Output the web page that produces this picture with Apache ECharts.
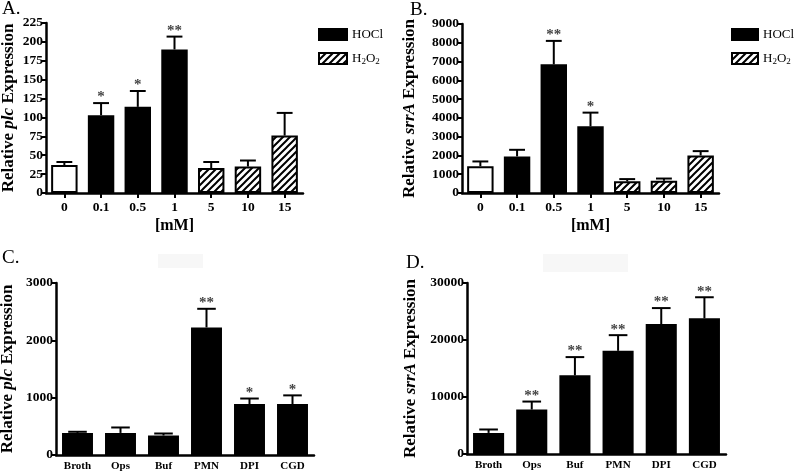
<!DOCTYPE html>
<html><head><meta charset="utf-8">
<script src="https://cdn.jsdelivr.net/npm/echarts@6/dist/echarts.min.js"></script>
<style>html,body{margin:0;padding:0;background:#fff}#c{width:800px;height:473px}</style>
</head><body><div id="c"></div>
<script>
// ---- Data ----
const aCats = ['0','0.1','0.5','1','5','10','15'];
const aMean = [37,103,114,190,33,35,76];
const aErrTop = [41,119,135,207,41,43,106];
const aStars = ['','*','*','**','','',''];
const aGroup = ['Control','HOCl','HOCl','HOCl','H2O2','H2O2','H2O2'];

const bCats = ['0','0.1','0.5','1','5','10','15'];
const bMean = [1430,1950,6850,3550,620,650,2000];
const bErrTop = [1680,2300,8100,4280,740,770,2230];
const bStars = ['','','**','*','','',''];
const bGroup = ['Control','HOCl','HOCl','HOCl','H2O2','H2O2','H2O2'];

const cCats = ['Broth','Ops','Buf','PMN','DPI','CGD'];
const cMean = [385,385,340,2225,890,890];
const cErrTop = [405,480,375,2550,985,1040];
const cStars = ['','','','**','*','*'];
const cGroup = ['HOCl','HOCl','HOCl','HOCl','HOCl','HOCl'];

const dCats = ['Broth','Ops','Buf','PMN','DPI','CGD'];
const dMean = [3700,7800,13800,18100,22800,23800];
const dErrTop = [4300,9200,17000,20850,25600,27500];
const dStars = ['','**','**','**','**','**'];
const dGroup = ['HOCl','HOCl','HOCl','HOCl','HOCl','HOCl'];

const aAxis = {min:0, max:225, interval:25};
const bAxis = {min:0, max:9000, interval:1000};
const cAxis = {min:0, max:3000, interval:1000};
const dAxis = {min:0, max:30000, interval:10000};

// ---- Styles ----
const SERIF = '"Liberation Serif","DejaVu Serif",serif';
function hatch(){
  const s = 7, c = document.createElement('canvas');
  c.width = s; c.height = s;
  const g = c.getContext('2d');
  g.fillStyle = '#fff'; g.fillRect(0,0,s,s);
  g.strokeStyle = '#000'; g.lineWidth = 2;
  g.beginPath();
  g.moveTo(-1,s+1); g.lineTo(s+1,-1);
  g.moveTo(-1,1); g.lineTo(1,-1);
  g.moveTo(s-1,s+1); g.lineTo(s+1,s-1);
  g.stroke();
  return c;
}
const hatchPattern = {image: hatch(), repeat: 'repeat'};
const styles = {
  Control: {color:'#fff', borderColor:'#000', borderWidth:2},
  HOCl: {color:'#000', borderColor:'#000', borderWidth:2},
  H2O2: {color: hatchPattern, borderColor:'#000', borderWidth:2}
};

const grids = [
  {left:46, top:23, width:257, height:170},
  {left:462, top:24, width:257, height:169},
  {left:56, top:283, width:258, height:172},
  {left:467, top:283, width:259, height:171}
];

function xAx(i, cats, small, withName){
  return {
    type:'category', gridIndex:i, data:cats,
    axisLine:{show:true, lineStyle:{color:'#000', width:2.5}},
    axisTick:{show:!small, alignWithLabel:true, length:5, lineStyle:{color:'#000', width:2}},
    axisLabel:{color:'#000', fontFamily:SERIF, fontWeight:'bold', fontSize: small?11:13.5, margin: small?6:8},
    name: withName ? '[mM]' : '',
    nameLocation:'middle', nameGap:25,
    nameTextStyle:{color:'#000', fontFamily:SERIF, fontWeight:'bold', fontSize:16}
  };
}
function yAx(i, ax, gene, gap){
  return {
    type:'value', gridIndex:i, min:ax.min, max:ax.max, interval:ax.interval,
    axisLine:{show:true, lineStyle:{color:'#000', width:2.5}},
    axisTick:{show:true, length:5, lineStyle:{color:'#000', width:2}},
    splitLine:{show:false},
    axisLabel:{color:'#000', fontFamily:SERIF, fontWeight:'bold', fontSize:13.5, margin:3,
      formatter: v => String(v)},
    name:'{b|Relative }{i|' + gene + '}{b| Expression}',
    nameLocation:'middle', nameRotate:90, nameGap:gap,
    nameTextStyle:{
      rich:{
        b:{color:'#000', fontFamily:SERIF, fontWeight:'bold', fontSize:17},
        i:{color:'#000', fontFamily:SERIF, fontWeight:'bold', fontStyle:'italic', fontSize:17}
      }
    }
  };
}

function barSeries(i, mean, group){
  const names = ['Control','HOCl','H2O2'].filter(n => group.indexOf(n) >= 0);
  return names.map(n => ({
    type:'bar', name:n, xAxisIndex:i, yAxisIndex:i,
    data: mean.map((v,k) => group[k] === n ? v : '-'),
    barWidth:'72%', barGap:'-100%',
    itemStyle: styles[n], z:2, silent:true
  }));
}
function errSeries(i, mean, top, stars){
  return {
    type:'custom', xAxisIndex:i, yAxisIndex:i, z:5, silent:true,
    data: mean.map((v,k) => [k, v, top[k]]),
    renderItem: function(params, api){
      const k = api.value(0);
      const p0 = api.coord([k, api.value(1)]);
      const p1 = api.coord([k, api.value(2)]);
      const hw = api.size([1,0])[0] * 0.72 * 0.3;
      const children = [
        {type:'line', shape:{x1:p0[0], y1:p0[1], x2:p1[0], y2:p1[1]}, style:{stroke:'#000', lineWidth:2}},
        {type:'line', shape:{x1:p1[0]-hw, y1:p1[1], x2:p1[0]+hw, y2:p1[1]}, style:{stroke:'#000', lineWidth:2}}
      ];
      const s = stars[params.dataIndex];
      if (s) children.push({type:'text', x:p1[0], y:p1[1]+2,
        style:{text:s, fill:'#444', font:'bold 15px ' + SERIF, align:'center', verticalAlign:'bottom'}});
      return {type:'group', children};
    }
  };
}

function legendFor(left, w){
  return {
    orient:'vertical', left:left, top:27, padding:0, itemWidth:w, itemHeight:11, itemGap:9,
    icon:'rect', selectedMode:false,
    data:['HOCl','H2O2'],
    formatter: n => n === 'H2O2' ? '{t|H}{s|2}{t|O}{s|2}' : '{t|HOCl}',
    textStyle:{color:'#000', fontFamily:SERIF, fontSize:13, lineHeight:15,
      rich:{
        t:{fontFamily:SERIF, fontSize:13, color:'#000', lineHeight:15},
        s:{fontFamily:SERIF, fontSize:9, color:'#000', lineHeight:15, verticalAlign:'bottom', padding:[6,0,0,0]}
      }
    }
  };
}

const titleStyle = {color:'#000', fontFamily:SERIF, fontWeight:'normal', fontSize:19};
const option = {
  animation:false,
  backgroundColor:'#fff',
  title:[
    {text:'A.', left:2, top:0, padding:0, textStyle:titleStyle},
    {text:'B.', left:410, top:1, padding:0, textStyle:titleStyle},
    {text:'C.', left:2, top:249, padding:0, textStyle:titleStyle},
    {text:'D.', left:406, top:254, padding:0, textStyle:titleStyle}
  ],
  graphic:[
    {type:'rect', shape:{x:158, y:254, width:45, height:14}, style:{fill:'#f7f7f7'}, silent:true},
    {type:'rect', shape:{x:543, y:254, width:85, height:18}, style:{fill:'#f7f7f7'}, silent:true}
  ],
  legend:[legendFor(318, 28), legendFor(731, 26)],
  grid: grids.map(g => Object.assign({outerBoundsMode:'none', containLabel:false}, g)),
  xAxis:[xAx(0,aCats,false,true), xAx(1,bCats,false,true), xAx(2,cCats,true,false), xAx(3,dCats,true,false)],
  yAxis:[yAx(0,aAxis,'plc',29), yAx(1,bAxis,'srrA',44), yAx(2,cAxis,'plc',40), yAx(3,dAxis,'srrA',48)],
  series:[].concat(
    barSeries(0,aMean,aGroup), [errSeries(0,aMean,aErrTop,aStars)],
    barSeries(1,bMean,bGroup), [errSeries(1,bMean,bErrTop,bStars)],
    barSeries(2,cMean,cGroup), [errSeries(2,cMean,cErrTop,cStars)],
    barSeries(3,dMean,dGroup), [errSeries(3,dMean,dErrTop,dStars)]
  )
};
const chart = echarts.init(document.getElementById('c'), null, {renderer:'canvas'});
chart.setOption(option);
</script></body></html>
